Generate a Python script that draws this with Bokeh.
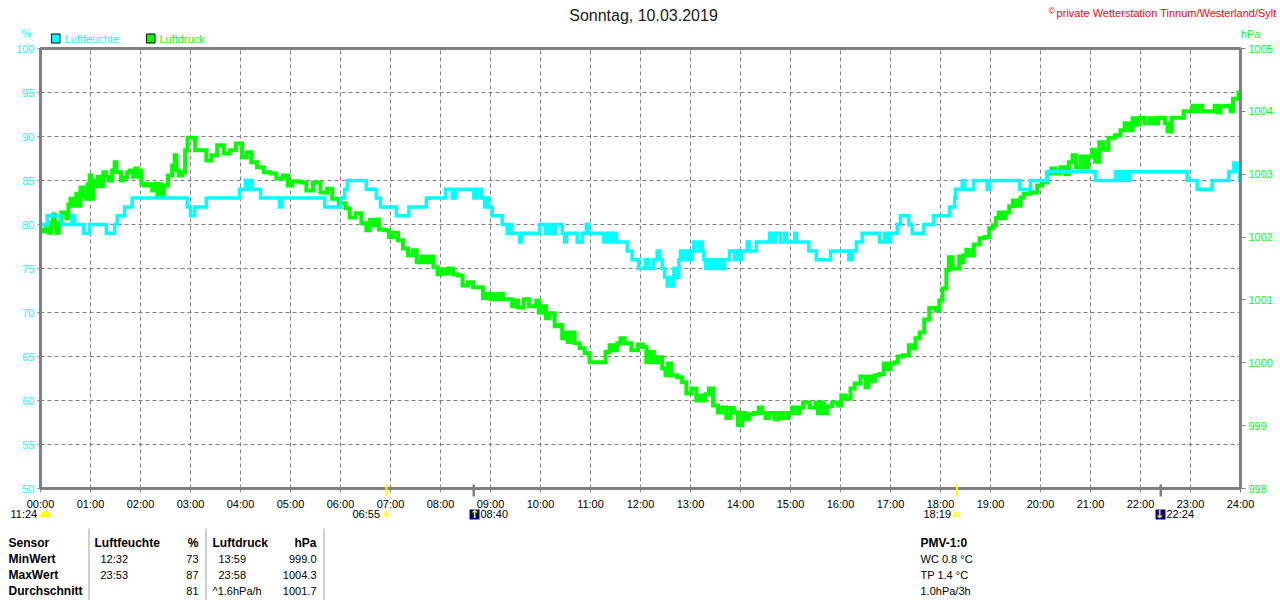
from bokeh.plotting import figure
from bokeh.models import Range1d, LinearAxis, FixedTicker, Label, BoxAnnotation
from bokeh.embed import file_html
from bokeh.resources import INLINE

# ---- data -------------------------------------------------------------
hour_labels = ["%02d:00" % h for h in range(25)]
hour_ticks = [h * 60 for h in range(25)]
pct_ticks = [50, 55, 60, 65, 70, 75, 80, 85, 90, 95, 100]
hpa_ticks = [998, 999, 1000, 1001, 1002, 1003, 1004, 1005]

hum_min = [0, 8, 24, 38, 41, 52, 59, 79, 89, 92, 101, 110, 176, 180, 185, 199, 239, 246, 248, 252, 254, 264, 287, 290,
           341, 360, 365, 368, 391, 403, 408, 427, 442, 463, 486, 494, 498, 520, 524, 529, 533, 535, 538, 542, 554,
           560, 563, 565, 575, 577, 599, 606, 610, 613, 618, 626, 629, 631, 644, 650, 655, 658, 676, 678, 682, 684,
           686, 689, 691, 704, 710, 718, 726, 730, 736, 740, 743, 746, 749, 752, 756, 758, 760, 763, 766, 768, 770,
           773, 775, 778, 780, 782, 784, 786, 791, 794, 796, 798, 802, 804, 808, 810, 812, 815, 817, 820, 821, 827,
           833, 835, 839, 841, 848, 851, 859, 875, 878, 882, 888, 893, 895, 905, 907, 922, 931, 948, 970, 974, 979,
           986, 1007, 1013, 1016, 1020, 1028, 1032, 1042, 1046, 1060, 1072, 1091, 1097, 1098, 1106, 1109, 1120, 1136,
           1139, 1175, 1188, 1208, 1266, 1290, 1292, 1295, 1296, 1298, 1301, 1303, 1306, 1307, 1376, 1388, 1406, 1426,
           1432, 1436, 1439, 1440]
hum_pct = [80, 81, 80, 81, 80, 79, 80, 79, 80, 81, 82, 83, 82, 81, 82, 83, 84, 85, 84, 85, 84, 83, 82, 83,
           82, 83, 84, 85, 84, 83, 82, 81, 82, 83, 84, 83, 84, 83, 84, 83, 82, 83, 82, 81, 80,
           79, 80, 79, 78, 79, 80, 79, 80, 79, 80, 79, 78, 79, 78, 79, 80, 79, 78, 79, 78, 79,
           78, 79, 78, 77, 76, 75, 76, 75, 76, 77, 76, 75, 74, 73, 74, 73, 75, 74, 76, 77, 76,
           77, 76, 77, 76, 77, 78, 77, 78, 77, 76, 75, 76, 75, 76, 75, 76, 75, 76, 75, 76, 77,
           76, 77, 76, 77, 78, 77, 78, 79, 78, 79, 78, 79, 78, 79, 78, 77, 76, 77, 76, 77, 78,
           79, 78, 79, 78, 79, 80, 81, 80, 79, 80, 81, 82, 83, 84, 85, 84, 85, 84,
           85, 84, 85, 86, 85, 86, 85, 86, 85, 86, 85, 86, 85, 86, 85, 84, 85, 86,
           87, 86, 85, 85]

prs_min = [0, 5, 8, 12, 14, 16, 18, 20, 24, 26, 30, 32, 35, 37, 40, 42, 44, 47, 49, 53, 55, 58, 60, 62, 65, 67, 71, 74,
           77, 80, 84, 88, 90, 92, 95, 98, 102, 106, 109, 113, 115, 118, 120, 122, 126, 132, 136, 139, 142, 144, 146,
           150, 156, 160, 162, 164, 168, 172, 175, 178, 184, 187, 196, 202, 208, 216, 224, 230, 239, 245, 250, 256,
           264, 272, 280, 286, 296, 298, 306, 316, 322, 332, 340, 348, 352, 364, 368, 374, 382, 388, 394, 396, 401,
           404, 408, 416, 420, 426, 432, 438, 444, 449, 454, 460, 464, 469, 474, 479, 484, 488, 492, 498, 503, 510,
           516, 522, 530, 532, 538, 542, 546, 548, 554, 556, 564, 568, 570, 576, 584, 588, 594, 596, 600, 605, 608,
           614, 620, 624, 628, 631, 634, 638, 644, 650, 656, 662, 676, 680, 686, 690, 694, 698, 704, 714, 720, 726,
           728, 734, 738, 744, 748, 752, 754, 760, 768, 772, 778, 784, 790, 794, 796, 800, 804, 810, 816, 820, 826,
           830, 834, 840, 844, 848, 852, 860, 864, 868, 872, 878, 884, 888, 894, 900, 904, 910, 912, 918, 928, 932,
           934, 938, 942, 946, 954, 960, 962, 970, 974, 980, 988, 992, 995, 1000, 1004, 1010, 1014, 1018, 1022, 1028,
           1030, 1040, 1044, 1048, 1052, 1058, 1063, 1070, 1078, 1079, 1086, 1088, 1092, 1097, 1102, 1103, 1105, 1110,
           1112, 1116, 1124, 1130, 1136, 1141, 1145, 1148, 1152, 1156, 1160, 1165, 1169, 1174, 1178, 1182, 1194, 1198,
           1206, 1210, 1216, 1220, 1228, 1232, 1236, 1241, 1244, 1252, 1254, 1260, 1264, 1267, 1274, 1278, 1285, 1294,
           1298, 1304, 1308, 1313, 1316, 1322, 1328, 1334, 1338, 1344, 1349, 1350, 1355, 1360, 1370, 1374, 1381, 1384,
           1386, 1392, 1396, 1408, 1410, 1414, 1418, 1426, 1430, 1432, 1436, 1439]
prs_hpa = [1002.12, 1002.09, 1002.14, 1002.07, 1002.23, 1002.36, 1002.19, 1002.07, 1002.23, 1002.39, 1002.39, 1002.30,
           1002.52, 1002.61, 1002.50, 1002.58, 1002.69, 1002.50, 1002.79, 1002.65, 1002.61, 1002.84, 1002.98, 1002.61,
           1002.90, 1002.81, 1002.96, 1002.81, 1003.03, 1002.96, 1002.90, 1003.06, 1003.19, 1003.03, 1003.03, 1002.90,
           1002.95, 1003.03, 1003.06, 1002.96, 1003.09, 1002.96, 1003.06, 1002.85, 1002.82, 1002.84, 1002.74, 1002.85,
           1002.66, 1002.84, 1002.66, 1002.82, 1002.98, 1003.14, 1003.30, 1003.06, 1002.98, 1003.03, 1003.38, 1003.58,
           1003.58, 1003.38, 1003.38, 1003.22, 1003.30, 1003.46, 1003.33, 1003.38, 1003.49, 1003.27, 1003.35, 1003.19,
           1003.11, 1003.03, 1003.01, 1002.93, 1002.98, 1002.82, 1002.89, 1002.87, 1002.74, 1002.87, 1002.71, 1002.77,
           1002.61, 1002.54, 1002.46, 1002.31, 1002.38, 1002.22, 1002.11, 1002.27, 1002.19, 1002.28, 1002.12, 1002.11,
           1002.00, 1002.07, 1001.95, 1001.82, 1001.71, 1001.79, 1001.60, 1001.69, 1001.60, 1001.69, 1001.52, 1001.41,
           1001.49, 1001.42, 1001.50, 1001.41, 1001.39, 1001.23, 1001.28, 1001.20, 1001.20, 1001.03, 1001.10, 1001.01,
           1001.09, 1001.01, 1001.10, 1001.01, 1001.01, 1000.90, 1000.99, 1000.88, 1001.01, 1000.90, 1000.90, 1000.99,
           1000.80, 1000.90, 1000.71, 1000.79, 1000.58, 1000.60, 1000.39, 1000.48, 1000.33, 1000.48, 1000.31, 1000.23,
           1000.15, 1000.01, 1000.01, 1000.17, 1000.28, 1000.20, 1000.31, 1000.39, 1000.31, 1000.20, 1000.29, 1000.25,
           1000.01, 1000.17, 1000.01, 1000.09, 999.91, 999.80, 999.99, 999.80, 999.77, 999.69, 999.51, 999.59, 999.40,
           999.48, 999.40, 999.50, 999.59, 999.32, 999.21, 999.29, 999.12, 999.28, 999.21, 999.01, 999.20, 999.10,
           999.18, 999.20, 999.29, 999.20, 999.12, 999.20, 999.10, 999.20, 999.12, 999.20, 999.29, 999.20, 999.29,
           999.37, 999.29, 999.37, 999.20, 999.37, 999.20, 999.31, 999.37, 999.32, 999.48, 999.43, 999.59, 999.67,
           999.78, 999.61, 999.78, 999.71, 999.80, 999.82, 999.99, 999.90, 999.99, 1000.01, 1000.10, 1000.12, 1000.28,
           1000.23, 1000.39, 1000.48, 1000.69, 1000.87, 1000.83, 1000.99, 1001.18, 1001.47, 1001.68, 1001.50, 1001.50,
           1001.69, 1001.60, 1001.71, 1001.80, 1001.71, 1001.88, 1001.98, 1002.00, 1002.14, 1002.19, 1002.30, 1002.39,
           1002.30, 1002.39, 1002.49, 1002.58, 1002.50, 1002.63, 1002.69, 1002.71, 1002.82, 1002.87, 1003.01, 1003.09,
           1003.01, 1003.11, 1003.00, 1003.19, 1003.30, 1003.11, 1003.28, 1003.11, 1003.28, 1003.39, 1003.20, 1003.51,
           1003.39, 1003.58, 1003.62, 1003.70, 1003.81, 1003.70, 1003.89, 1003.79, 1003.90, 1003.81, 1003.89, 1003.81,
           1003.90, 1003.89, 1003.81, 1003.68, 1003.90, 1003.90, 1004.00, 1004.00, 1004.09, 1004.00, 1004.09, 1004.00,
           1004.00, 1004.09, 1003.98, 1004.08, 1004.09, 1004.00, 1004.20, 1004.20, 1004.30]

# ---- figure: the frame fills the canvas, so nothing outside the plot area is clipped ----
W, H = 1280, 600
FONT = "Liberation Sans"
GRAY = "#808080"
CYAN = "#00ffff"
GREEN = "#00ff00"

p = figure(width=W, height=H, output_backend="svg", toolbar_location=None,
           x_range=Range1d(-48, 1488), y_range=Range1d(100 - 552 / 8.8, 100 + 48 / 8.8),
           min_border=0, background_fill_color="white", border_fill_color="white")
p.extra_y_ranges = {"hpa": Range1d(1005 - 552 * 7 / 440, 1005 + 48 * 7 / 440)}
p.outline_line_color = None
p.grid.visible = False

ax = p.xaxis[0]
ax.fixed_location = 50
ax.bounds = (0, 1440)
ax.ticker = FixedTicker(ticks=hour_ticks)
ax.major_label_overrides = dict(zip(hour_ticks, hour_labels))
ax.major_label_text_font = FONT
ax.major_label_text_font_size = "11px"
ax.major_label_text_color = "black"
ax.major_label_standoff = 5
ax.axis_line_color = GRAY
ax.axis_line_width = 3
ax.major_tick_line_color = GRAY
ax.major_tick_out = 4
ax.major_tick_in = 0
ax.minor_tick_line_color = None

ay = p.yaxis[0]
ay.fixed_location = 0
ay.bounds = (50, 100)
ay.ticker = FixedTicker(ticks=pct_ticks)
ay.major_label_text_font = FONT
ay.major_label_text_font_size = "11px"
ay.major_label_text_color = CYAN
ay.major_label_standoff = 3
ay.axis_line_color = GRAY
ay.axis_line_width = 3
ay.major_tick_line_color = GRAY
ay.major_tick_out = 3
ay.major_tick_in = 0
ay.minor_tick_line_color = None

ar = LinearAxis(y_range_name="hpa", ticker=FixedTicker(ticks=hpa_ticks), fixed_location=1440, bounds=(998, 1005))
ar.major_label_text_font = FONT
ar.major_label_text_font_size = "11px"
ar.major_label_text_color = GREEN
ar.major_label_standoff = 3
ar.axis_line_color = GRAY
ar.axis_line_width = 3
ar.major_tick_line_color = GRAY
ar.major_tick_out = 5
ar.major_tick_in = 0
ar.minor_tick_line_color = None
p.add_layout(ar, "right")

# dashed grid, held inside the plot area
p.segment(x0=hour_ticks, y0=[50] * 25, x1=hour_ticks, y1=[100] * 25,
          line_color=GRAY, line_width=1, line_dash="4 3")
p.segment(x0=[0] * 11, y0=pct_ticks, x1=[1440] * 11, y1=pct_ticks,
          line_color=GRAY, line_width=1, line_dash="4 3")

p.step(prs_min, prs_hpa, mode="center", y_range_name="hpa", line_color=GREEN, line_width=4, line_join="miter")
p.step(hum_min, hum_pct, mode="after", line_color=CYAN, line_width=3.5, line_join="miter")

p.quad(left=[0], right=[1440], bottom=[50], top=[100], fill_alpha=0, line_color=GRAY, line_width=3)


# ---- helpers: X, Y are page pixels ---------------------------------------
def dx(X):
    return (X - 40) * 1.2


def dy(Y):
    return 100 - (Y - 48) / 8.8


def text(X, Y, s, color="black", size="11px", bold=False, align="left", font=FONT):
    p.add_layout(Label(x=X, y=H - Y, x_units="screen", y_units="screen", text=s,
                       text_color=color, text_font=font, text_font_size=size,
                       text_font_style="bold" if bold else "normal",
                       text_align=align, text_baseline="middle"))


def box(X0, X1, Y0, Y1, fill=None, line=None, lw=1):
    p.add_layout(BoxAnnotation(left=dx(X0), right=dx(X1), top=dy(Y0), bottom=dy(Y1),
                               fill_color=fill, fill_alpha=1 if fill else 0,
                               line_color=line, line_alpha=1 if line else 0, line_width=lw))


# header
text(643, 15, "Sonntag, 10.03.2019", size="16px", align="center", color="#202020")
text(1048, 10, "\u00a9", color="#ff0000", size="9px")
text(1276, 12, "private Wetterstation Tinnum/Westerland/Sylt", color="#ff0000", size="11px", align="right")
text(26, 32, "%", color=CYAN, align="center")
text(1250, 33, "hPa", color=GREEN, align="center")

# legend
box(51, 59.5, 33.5, 42.5, fill=CYAN, line="black", lw=1)
text(64, 38, "Luftfeuchte", color=CYAN)
box(146, 154.5, 33.5, 42.5, fill=GREEN, line="black", lw=1)
text(159, 38, "Luftdruck", color=GREEN)

# sun / moon ticks on the time axis
box(385, 387, 484, 496, fill="#ffff00")
box(472, 474.5, 484, 496, fill=GRAY)
box(955.5, 957.5, 484, 496, fill="#ffff00")
box(1159, 1161.5, 484, 496, fill=GRAY)

# rise and set marks
text(10, 513, "11:24")
p.patch([dx(v) for v in (40, 41, 43, 47, 49, 50)], [dy(v) for v in (516, 513, 511, 511, 513, 516)],
        fill_color="#ffff00", line_color="#ffff00", line_width=1)
text(352, 513, "06:55")
text(386, 514, "\u2600", color="#ffff00", size="15px", align="center", font="DejaVu Sans")
box(469, 479, 509, 519, fill="#000080")
text(474, 514, "\u2191", color="#ffff00", size="11px", bold=True, align="center", font="DejaVu Sans")
text(480, 513, "08:40")
text(923, 513, "18:19")
box(954, 958, 512, 516, line="#ffff00")
box(1155, 1165, 509, 519, fill="#000080")
text(1159, 514, "\u2193", color="#ffff00", size="11px", bold=True, align="center", font="DejaVu Sans")
text(1166, 513, "22:24")

# statistics table
R = [542, 558, 574, 590]
for X in (88, 205, 323):
    box(X, X + 1, 528, 600, fill="#a0a0a0")
text(8, R[0], "Sensor", bold=True, size="12px")
text(8, R[1], "MinWert", bold=True, size="12px")
text(8, R[2], "MaxWert", bold=True, size="12px")
text(8, R[3], "Durchschnitt", bold=True, size="12px")
text(94, R[0], "Luftfeuchte", bold=True, size="12px")
text(198, R[0], "%", bold=True, size="12px", align="right")
text(100, R[1], "12:32")
text(198, R[1], "73", align="right")
text(100, R[2], "23:53")
text(198, R[2], "87", align="right")
text(198, R[3], "81", align="right")
text(212, R[0], "Luftdruck", bold=True, size="12px")
text(316, R[0], "hPa", bold=True, size="12px", align="right")
text(218, R[1], "13:59")
text(316, R[1], "999.0", align="right")
text(218, R[2], "23:58")
text(316, R[2], "1004.3", align="right")
text(212, R[3], "^1.6hPa/h")
text(316, R[3], "1001.7", align="right")
text(920, R[0], "PMV-1:0", bold=True, size="12px")
text(920, R[1], "WC 0.8 \u00b0C")
text(920, R[2], "TP 1.4 \u00b0C")
text(920, R[3], "1.0hPa/3h")

open("out.html", "w").write(file_html(p, INLINE))
